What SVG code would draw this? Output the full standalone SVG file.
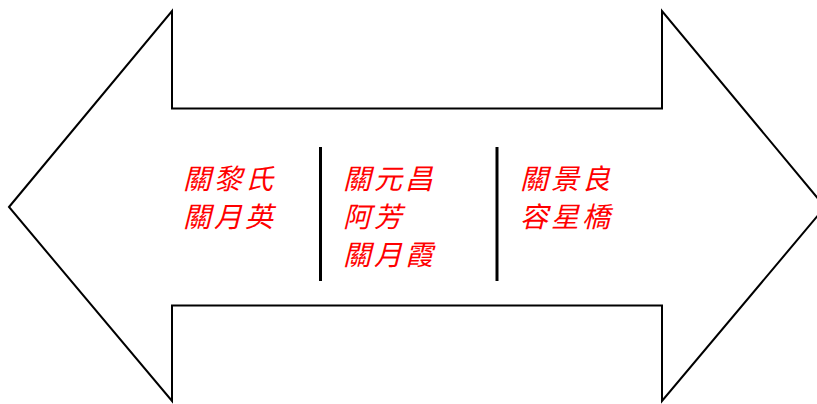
<svg xmlns="http://www.w3.org/2000/svg" width="817" height="404" viewBox="0 0 817 404">
<style>
.arrow{fill:#fff;stroke:#000;stroke-width:2;stroke-linejoin:miter}
.div{stroke:#000;stroke-width:3}
.lbl{font-family:"Noto Sans CJK TC","Noto Sans CJK SC",sans-serif;font-size:28px;font-style:italic;fill:#ff0000;letter-spacing:3px}
</style>
<rect width="817" height="404" fill="#fff"/>
<g id="arrow">
<polygon class="arrow" points="9,207 172,11 172,108.5 662,108.5 662,11 825,207 662,401 662,305.5 172,305.5 172,401"/>
</g>
<g id="connectors">
<line class="div" x1="320.5" y1="147" x2="320.5" y2="281"/>
<line class="div" x1="497" y1="147" x2="497" y2="281"/>
</g>
<g id="group1">
<text class="lbl" x="183" y="189">關黎氏</text>
<text class="lbl" x="183" y="227">關月英</text>
</g>
<g id="group2">
<text class="lbl" x="343" y="189">關元昌</text>
<text class="lbl" x="343" y="227">阿芳</text>
<text class="lbl" x="343" y="265">關月霞</text>
</g>
<g id="group3">
<text class="lbl" x="520" y="189">關景良</text>
<text class="lbl" x="520" y="227">容星橋</text>
</g>
</svg>
